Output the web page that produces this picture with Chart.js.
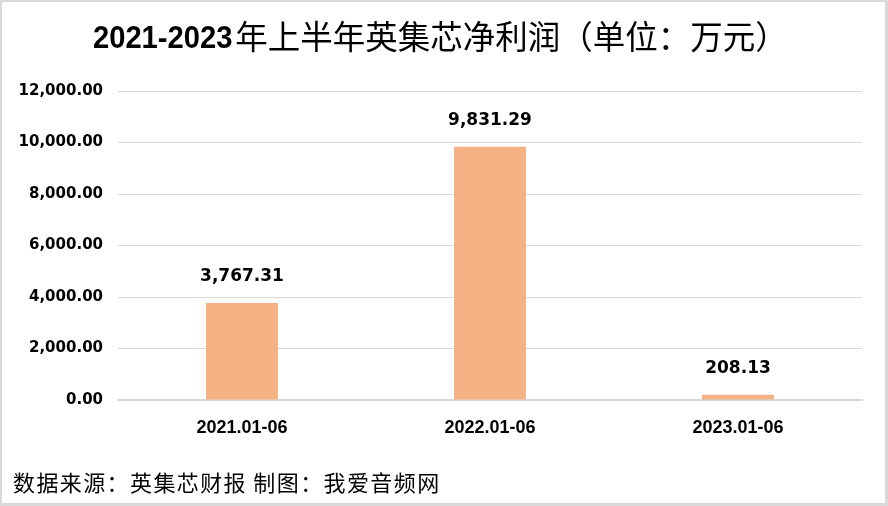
<!DOCTYPE html>
<html><head><meta charset="utf-8">
<script src="https://cdn.jsdelivr.net/npm/chart.js@4.4.1/dist/chart.umd.min.js"></script>
<style>html,body{margin:0;padding:0;background:#fff;}#wrap{width:888px;height:506px;}</style>
</head><body><div id="wrap"><canvas id="c" width="888" height="506"></canvas></div>
<script>
const categories = ['2021.01-06', '2022.01-06', '2023.01-06'];
const netProfit = [3767.31, 9831.29, 208.13];
const yTicks = [0, 2000, 4000, 6000, 8000, 10000, 12000];
const titleNum = '2021-2023';
const titleCn = '年上半年英集芯净利润（单位：万元）';
const footer = '数据来源：英集芯财报 制图：我爱音频网';

const fmt = v => v.toLocaleString('en-US', {minimumFractionDigits: 2, maximumFractionDigits: 2});

const deco = {
  id: 'deco',
  beforeDraw(chart) {
    const ctx = chart.ctx;
    ctx.save();
    ctx.fillStyle = '#d9d9d9';
    ctx.fillRect(0, 0, 888, 506);
    ctx.fillStyle = '#ffffff';
    ctx.fillRect(2, 2, 883, 501);
    ctx.restore();
  },
  afterDraw(chart) {
    const ctx = chart.ctx;
    ctx.save();
    ctx.fillStyle = '#000';
    ctx.textBaseline = 'middle';
    ctx.textAlign = 'left';
    // title: condensed bold digits + CJK
    const sx = 0.94;
    ctx.font = 'bold 31px "Liberation Sans"';
    const w1 = ctx.measureText(titleNum).width * sx;
    const x0 = 93;
    ctx.save();
    ctx.translate(x0, 39);
    ctx.scale(sx, 1);
    ctx.fillText(titleNum, 0, 0);
    ctx.restore();
    ctx.font = '32.5px "Noto Sans CJK SC"';
    ctx.fillText(titleCn, x0 + w1 + 3, 37);
    // footer
    ctx.font = '22px "Noto Sans CJK SC"';
    ctx.letterSpacing = '1.4px';
    ctx.fillText(footer, 13, 483);
    ctx.letterSpacing = '0px';
    // data labels
    const meta = chart.getDatasetMeta(0);
    ctx.font = 'bold 17px "DejaVu Sans"';
    ctx.textAlign = 'center';
    meta.data.forEach((bar, i) => {
      ctx.fillText(fmt(netProfit[i]), bar.x, bar.y - 26);
    });
    ctx.restore();
  }
};

new Chart(document.getElementById('c'), {
  type: 'bar',
  data: {
    labels: categories,
    datasets: [{
      data: netProfit,
      backgroundColor: '#F4B183',
      borderWidth: 0,
      categoryPercentage: 1,
      barPercentage: 0.29
    }]
  },
  options: {
    responsive: false,
    animation: false,
    events: [],
    layout: {padding: {top: 91, right: 26, left: 0, bottom: 0}},
    plugins: {legend: {display: false}, title: {display: false}, tooltip: {enabled: false}},
    scales: {
      x: {
        grid: {display: false, drawTicks: false},
        border: {display: true, color: '#d9d9d9', width: 2},
        ticks: {padding: 17, color: '#000', font: {family: 'Liberation Sans', weight: 'bold', size: 18}},
        afterFit(s) { s.height = 106; }
      },
      y: {
        min: 0, max: 12000,
        afterBuildTicks(s) { s.ticks = yTicks.map(v => ({value: v})); },
        grid: {color: '#d9d9d9', lineWidth: 1, drawTicks: false},
        border: {display: false},
        ticks: {padding: 15, color: '#000', font: {family: 'DejaVu Sans', weight: 'bold', size: 15},
          callback: v => fmt(v)},
        afterFit(s) { s.width = 118; }
      }
    }
  },
  plugins: [deco]
});
</script></body></html>
